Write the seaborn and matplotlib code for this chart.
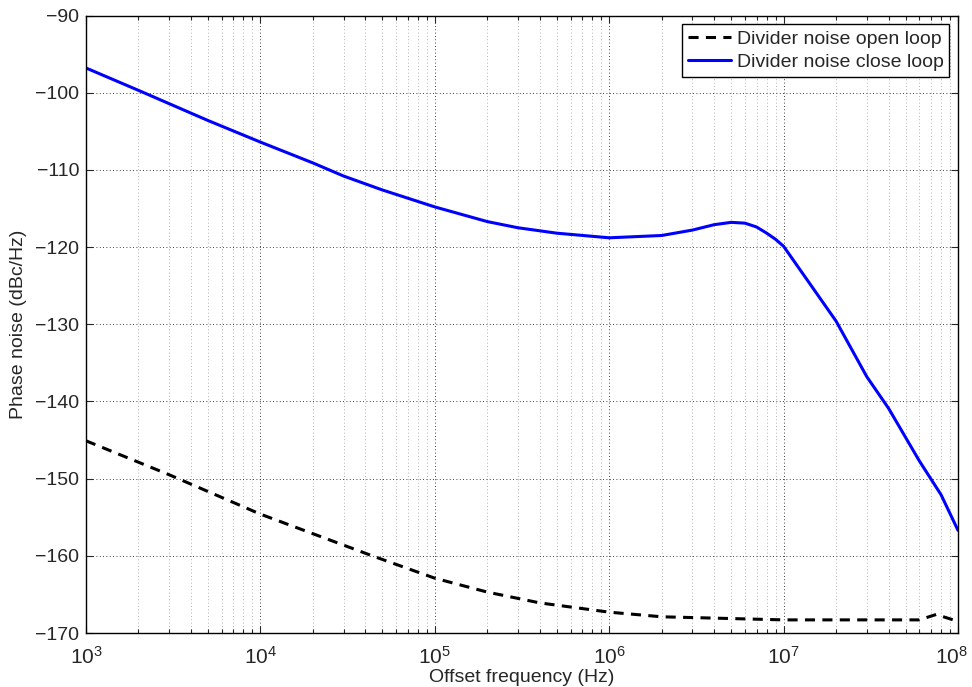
import numpy as np
import pandas as pd
import matplotlib
matplotlib.use("Agg")
import matplotlib.pyplot as plt
import matplotlib.transforms as mtransforms
import seaborn as sns
from matplotlib.ticker import LogLocator, NullFormatter, FixedLocator

# ---- data ----
open_freq = [1e3, 3e3, 1e4, 4.5e4, 1e5, 2e5, 4e5, 1e6, 2e6, 1e7, 6e7, 7.5e7, 1e8]
open_pn = [-145.1, -149.5, -154.6, -160.1, -162.9, -164.7, -166.1, -167.3, -167.9,
           -168.3, -168.3, -167.6, -168.5]

close_freq = [1e3, 2e3, 5e3, 1e4, 2e4, 3e4, 5e4, 1e5, 2e5, 3e5, 5e5, 1e6, 2e6, 3e6,
              4e6, 5e6, 6e6, 7e6, 8e6, 9e6, 1e7, 2e7, 3e7, 4e7, 6e7, 8e7, 1e8]
close_pn = [-96.8, -99.7, -103.6, -106.4, -109.1, -110.8, -112.6, -114.8, -116.7,
            -117.5, -118.2, -118.8, -118.5, -117.8, -117.1, -116.8, -116.9, -117.4,
            -118.2, -119.0, -119.9, -129.6, -136.8, -140.9, -147.7, -152.1, -156.7]

series_names = ["Divider noise open loop", "Divider noise close loop"]
y_ticks = [-170, -160, -150, -140, -130, -120, -110, -100, -90]

df = pd.concat([
    pd.DataFrame({"f": open_freq, "pn": open_pn, "s": series_names[0]}),
    pd.DataFrame({"f": close_freq, "pn": close_pn, "s": series_names[1]}),
])

sns.set_style("ticks")
plt.rcParams["font.family"] = ["Liberation Sans", "DejaVu Sans"]
plt.rcParams["mathtext.fontset"] = "custom"
plt.rcParams["mathtext.rm"] = "Liberation Sans"
plt.rcParams["mathtext.it"] = "Liberation Sans"
plt.rcParams["mathtext.default"] = "regular"

fig = plt.figure(figsize=(9.72, 6.87), dpi=100)
ax = fig.add_axes([86 / 972, 1 - 633 / 687, (958 - 86) / 972, (633 - 15.5) / 687])

sns.lineplot(data=df, x="f", y="pn", hue="s", style="s",
             palette={series_names[0]: "black", series_names[1]: "#0000ff"},
             dashes={series_names[0]: (3.3, 2.4), series_names[1]: ""},
             linewidth=2.2, ax=ax, sort=False)

ax.set_xscale("log")
ax.set_xlim(1e3, 1e8)
ax.set_ylim(-170, -90)
ax.yaxis.set_major_locator(FixedLocator(y_ticks))
ax.xaxis.set_major_locator(LogLocator(base=10, numticks=10))
ax.xaxis.set_minor_locator(LogLocator(base=10, subs=np.arange(2, 10), numticks=20))
ax.xaxis.set_minor_formatter(NullFormatter())

ax.grid(True, which="major", axis="both", color="black", linestyle=(0, (1, 3)), linewidth=0.6)
ax.grid(True, which="minor", axis="x", color="#999999", linestyle=(0, (1, 3)), linewidth=0.6)

ax.tick_params(which="both", direction="in", top=True, right=True, width=0.8)
ax.tick_params(axis="y", labelsize=14, pad=5)
ax.tick_params(axis="x", labelsize=15, pad=9)
ax.tick_params(which="major", length=5)
ax.tick_params(which="minor", length=3)
for sp in ax.spines.values():
    sp.set_visible(True)
    sp.set_linewidth(1.0)
    sp.set_color("black")

ax.set_xlabel("Offset frequency (Hz)", fontsize=14, labelpad=1)
ax.set_ylabel("Phase noise (dBc/Hz)", fontsize=14, labelpad=6)

leg = ax.legend(loc="upper right", fontsize=14, frameon=True, fancybox=False,
                edgecolor="black", framealpha=1, borderpad=0.3, labelspacing=0.3,
                handlelength=2.2, handletextpad=0.3, borderaxespad=0.45)
leg.get_frame().set_linewidth(1.0)

# nudge the last x tick label so it stays inside the figure
fig.canvas.draw()
last = ax.get_xticklabels()[-1]
for lab in ax.get_xticklabels():
    if lab.get_position()[0] >= 1e8 * 0.999:
        lab.set_transform(lab.get_transform() +
                          mtransforms.ScaledTranslation(-7 / 100, 0, fig.dpi_scale_trans))

fig.savefig("out.png", dpi=100)
